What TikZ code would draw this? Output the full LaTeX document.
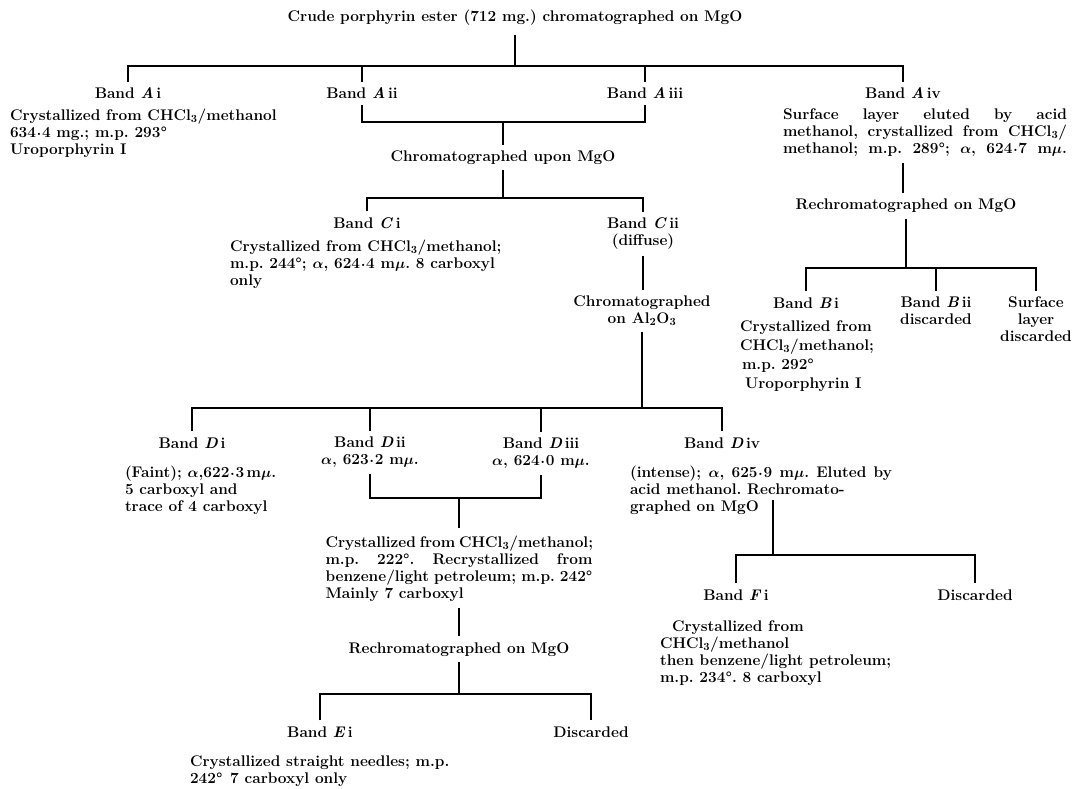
\documentclass[tikz,border=0pt]{standalone}
\newcommand{\fs}{\fontsize{15.4}{17}\selectfont}
\newcommand{\dg}{\textdegree}
\newcommand{\pc}{\kern.04em\raisebox{0.33ex}{.}\kern.04em}
\tikzset{
  bl/.style={inner sep=0pt, outer sep=0pt, font=\fs\bfseries\boldmath},
  lbl/.style={bl},
  ln/.style={line width=2pt},
}
\begin{document}
\frenchspacing
\begin{tikzpicture}[x=1pt,y=-1pt]
\useasboundingbox (0,0) rectangle (1077,789);
\fill[white] (0,0) rectangle (1077,789);

% ---------- top ----------
\node[bl, anchor=base] (t0) at (515,22) {Crude porphyrin ester (712 mg.) chromatographed on MgO};
\coordinate (h0) at (0,66);
\node[lbl, anchor=base] (aI) at (128,99) {Band \textit{A}\,i};
\node[lbl, anchor=base] (aII) at (362,99) {Band \textit{A}\,ii};
\node[lbl, anchor=base] (aIII) at (645,99) {Band \textit{A}\,iii};
\node[lbl, anchor=base] (aIV) at (903,99) {Band \textit{A}\,iv};

\node[bl, anchor=north west, align=left] (aId) at (10,109)
  {Crystallized from CHCl$_3$/methanol\\634\pc4 mg.; m.p. 293\dg\\Uroporphyrin I};
\node[bl, anchor=north west, align=left] (aIVd) at (783,109)
  {\makebox[284pt][s]{Surface layer eluted by acid}\\
   \makebox[284pt][s]{methanol, crystallized from CHCl$_3$/}\\
   \makebox[284pt][s]{methanol; m.p. 289\dg; $\alpha$, 624\pc7 m$\mu$.}};

\draw[ln, shorten <=9pt] (t0.south) -- (t0.south |- h0);
\draw[ln, shorten <=6pt, shorten >=6pt] (aI.north) -- (aI.north |- h0) -- (aIV.north |- h0) -- (aIV.north);
\draw[ln, shorten >=6pt] (aII.north |- h0) -- (aII.north);
\draw[ln, shorten >=6pt] (aIII.north |- h0) -- (aIII.north);

% ---------- A ii / A iii ----------
\coordinate (hA) at (0,122);
\node[lbl, anchor=base] (cM) at (503,162) {Chromatographed upon MgO};
\draw[ln, shorten <=6pt, shorten >=6pt] (aII.south) -- (aII.south |- hA) -- (aIII.south |- hA) -- (aIII.south);
\draw[ln, shorten >=6pt] (cM.north |- hA) -- (cM.north);

\coordinate (hC) at (0,198);
\node[bl, anchor=base] (cI) at (367,228) {Band \textit{C}\,i};
\node[lbl, anchor=north, align=center] (cII) at (643,218) {Band \textit{C}\,ii\\(diffuse)};
\node[bl, anchor=north west, align=left] (cId) at (230,240)
  {Crystallized from CHCl$_3$/methanol;\\m.p. 244\dg; $\alpha$, 624\pc4 m$\mu$. 8 carboxyl\\only};
\draw[ln, shorten <=5pt] (cM.south) -- (cM.south |- hC);
\draw[ln, shorten <=6pt, shorten >=6pt] (cI.north) -- (cI.north |- hC) -- (cII.north |- hC) -- (cII.north);

\node[lbl, anchor=north, align=center] (cAl) at (642,296) {Chromatographed\\on Al$_2$O$_3$};
\draw[ln, shorten <=6pt, shorten >=6pt] (cII.south) -- (cII.south |- cAl.north);

% ---------- D level ----------
\coordinate (hD) at (0,408);
\node[lbl, anchor=base] (dI) at (192,448) {Band \textit{D}\,i};
\node[lbl, anchor=north, align=center] (dII) at (370,437) {Band \textit{D}\,ii\\$\alpha$, 623\pc2 m$\mu$.};
\node[bl, anchor=north, align=center] (dIII) at (541,438) {Band \textit{D}\,iii\\$\alpha$, 624\pc0 m$\mu$.};
\node[lbl, anchor=base] (dIV) at (722,448) {Band \textit{D}\,iv};
\draw[ln, shorten <=6pt] (cAl.south) -- (cAl.south |- hD);
\draw[ln, shorten <=6pt, shorten >=6pt] (dI.north) -- (dI.north |- hD) -- (dIV.north |- hD) -- (dIV.north);
\draw[ln, shorten >=6pt] (dII.north |- hD) -- (dII.north);
\draw[ln, shorten >=6pt] (dIII.north |- hD) -- (dIII.north);

\node[bl, anchor=north west, align=left] (dId) at (125,466)
  {(Faint); $\alpha$,622\pc3\,m$\mu$.\\5 carboxyl and\\trace of 4 carboxyl};
\node[bl, anchor=north west, align=left] (dIVd) at (630,466)
  {\makebox[262pt][s]{(intense); $\alpha$, 625\pc9 m$\mu$. Eluted by}\\acid methanol. Rechromato-\\graphed on MgO};

% ---------- D ii / D iii ----------
\coordinate (hM) at (0,498);
\node[bl, anchor=north west, align=left] (mD) at (325.5,536)
  {\makebox[267pt][s]{Crystallized from CHCl$_3$/methanol;}\\
   \makebox[267pt][s]{m.p. 222\dg. Recrystallized from}\\
   \makebox[267pt][s]{benzene/light petroleum; m.p. 242\dg}\\
   Mainly 7 carboxyl};
\draw[ln, shorten <=6pt, shorten >=6pt] (dII.south) -- (dII.south |- hM) -- (dIII.south |- hM) -- (dIII.south);
\draw[ln, shorten >=8pt] (mD.north |- hM) -- (mD.north);

\node[lbl, anchor=base] (rM) at (459,653) {Rechromatographed on MgO};
\draw[ln, shorten <=6pt, shorten >=6pt] (mD.south) -- (mD.south |- rM.north);

\coordinate (hE) at (0,694);
\node[bl, anchor=base] (eI) at (320,737) {Band \textit{E}\,i};
\node[bl, anchor=base] (eD) at (591,737) {Discarded};
\draw[ln, shorten <=6pt] (rM.south) -- (rM.south |- hE);
\draw[ln, shorten <=6pt, shorten >=6pt] (eI.north) -- (eI.north |- hE) -- (eD.north |- hE) -- (eD.north);
\node[bl, anchor=north west, align=left] (eId) at (190,756)
  {Crystallized straight needles; m.p.\\242\dg\enspace 7 carboxyl only};

% ---------- right branch (A iv) ----------
\node[bl, anchor=base] (rB) at (906,210) {Rechromatographed on MgO};
\draw[ln, shorten <=6pt, shorten >=6pt] (aIVd.south -| aIV) -- (aIV |- rB.north);
\coordinate (hB) at (0,268);
\node[bl, anchor=base] (bI) at (806,308) {Band \textit{B}\,i};
\node[bl, anchor=north, align=center] (bII) at (936,297) {Band \textit{B}\,ii\\discarded};
\node[bl, anchor=north, align=center] (sL) at (1036,297) {Surface\\layer\\discarded};
\draw[ln, shorten <=6pt] (rB.south) -- (rB.south |- hB);
\draw[ln, shorten <=6pt, shorten >=6pt] (bI.north) -- (bI.north |- hB) -- (sL.north |- hB) -- (sL.north);
\draw[ln, shorten >=6pt] (bII.north |- hB) -- (bII.north);
\node[bl, anchor=north west, align=left, font=\fontsize{15.4}{19}\selectfont\bfseries\boldmath] (bId) at (740,321)
  {Crystallized from\\CHCl$_3$/methanol;\\\hspace*{2pt}m.p. 292\dg\\\hspace*{5pt}Uroporphyrin I};

% ---------- D iv -> F ----------
\coordinate (fC) at (773,500);
\coordinate (hF) at (0,555);
\node[lbl, anchor=base] (fI) at (736,600) {Band \textit{F}\,i};
\node[bl, anchor=base] (fD) at (975,600) {Discarded};
\draw[ln] (fC) -- (fC |- hF);
\draw[ln, shorten <=6pt, shorten >=6pt] (fI.north) -- (fI.north |- hF) -- (fD.north |- hF) -- (fD.north);
\node[bl, anchor=north west, align=left] (fId) at (660,621)
  {\hspace*{12pt}Crystallized from\\CHCl$_3$/methanol\\then benzene/light petroleum;\\m.p. 234\dg. 8 carboxyl};
\end{tikzpicture}
\end{document}
